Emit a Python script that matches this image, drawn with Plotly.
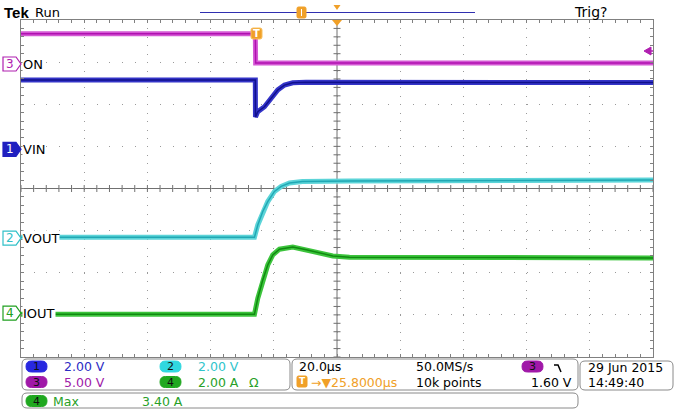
import numpy as np
import plotly.graph_objects as go

# time base 20 us/div, trigger at t=0, screen centre at +25.8 us
t_left, t_right = -74.2, 125.8
t_centre = 25.8

# channel settings: name, scale (per div), ground offset (div)
ch_names = ["ON", "VIN", "VOUT", "IOUT"]
ch_scale = [5.0, 2.0, 2.0, 2.0]
ch_offset = [2.955, 0.93, -1.18, -2.96]

# waveforms (us, V or A)
t_on = [-74.2, -0.05, 0.05, 125.8]
v_on = [3.6, 3.6, 0.12, 0.12]

t_vin = [-74.2, -0.05, 0.0, 0.73, 2.85, 4.97, 7.06, 9.18, 11.8, 16.0, 125.8]
v_vin = [3.29, 3.29, 1.53, 1.79, 2.02, 2.42, 2.82, 3.05, 3.16, 3.18, 3.17]

t_vout = [-74.2, -0.32, 0.73, 2.31, 3.89, 6.01, 8.13, 10.76, 14.87, 30.0, 125.8]
v_vout = [0.05, 0.05, 0.63, 1.27, 1.74, 2.22, 2.46, 2.62, 2.69, 2.72, 2.76]

t_iout = [-74.2, -0.32, 0.73, 2.31, 3.89, 5.48, 7.6, 11.8, 16.05, 20.26, 24.47, 29.75, 125.8]
i_iout = [-0.05, -0.05, 0.71, 1.58, 2.29, 2.77, 3.04, 3.14, 3.01, 2.85, 2.72, 2.66, 2.62]

waves = [(t_on, v_on), (t_vin, v_vin), (t_vout, v_vout), (t_iout, i_iout)]
outer_col = ["#d458d4", "#3434c8", "#5cd4d8", "#3cc43c"]
inner_col = ["#b010b0", "#10108c", "#20a8b4", "#108a10"]
mark_col = ["#b020b0", "#2020c0", "#30c0c8", "#20a020"]

FONT = "DejaVu Sans"


def px(x):
    return (x - 21) / 632


def py(y):
    return (357 - y) / 337


def rbox(x0, y0, x1, y1, r):
    return (f"M{px(x0+r)},{py(y0)} L{px(x1-r)},{py(y0)} Q{px(x1)},{py(y0)} {px(x1)},{py(y0+r)} "
            f"L{px(x1)},{py(y1-r)} Q{px(x1)},{py(y1)} {px(x1-r)},{py(y1)} "
            f"L{px(x0+r)},{py(y1)} Q{px(x0)},{py(y1)} {px(x0)},{py(y1-r)} "
            f"L{px(x0)},{py(y0+r)} Q{px(x0)},{py(y0)} {px(x0+r)},{py(y0)} Z")


def text(x, y, s, col="black", size=12.5, anchor="left", family=FONT):
    return dict(x=px(x), y=py(y), xref="paper", yref="paper", xanchor=anchor, yanchor="middle",
                text=s, showarrow=False, font=dict(family=family, size=size, color=col))


fig = go.Figure()

# centre cross ticks of the graticule
xt = np.arange(t_left, t_right + 0.01, 4.0)
yt = np.arange(-4, 4.01, 0.2)
fig.add_trace(go.Scatter(x=xt, y=np.zeros_like(xt), mode="markers", hoverinfo="skip",
                         marker=dict(symbol="line-ns", size=5, line=dict(width=1, color="#707070"))))
fig.add_trace(go.Scatter(x=np.full_like(yt, t_centre), y=yt, mode="markers", hoverinfo="skip",
                         marker=dict(symbol="line-ew", size=5, line=dict(width=1, color="#707070"))))

for i, (tt, vv) in enumerate(waves):
    y = np.array(vv) / ch_scale[i] + ch_offset[i]
    fig.add_trace(go.Scatter(x=tt, y=y, mode="lines", line=dict(color=outer_col[i], width=5),
                             hoverinfo="skip"))
    fig.add_trace(go.Scatter(x=tt, y=y, mode="lines", line=dict(color=inner_col[i], width=1.5),
                             name=ch_names[i]))

shapes = []
annos = []

# centre lines
shapes.append(dict(type="line", x0=t_centre, x1=t_centre, y0=-4, y1=4, xref="x", yref="y",
                   line=dict(color="#707070", width=1), layer="below"))
shapes.append(dict(type="line", x0=t_left, x1=t_right, y0=0, y1=0, xref="x", yref="y",
                   line=dict(color="#707070", width=1), layer="below"))

# channel markers and labels on the left
for i in range(4):
    filled = i == 1
    shapes.append(dict(type="path", xref="paper", yref="y", xsizemode="pixel", ysizemode="pixel",
                       xanchor=0, yanchor=ch_offset[i],
                       path="M-18,-7 L-5,-7 L0,0 L-5,7 L-18,7 Z",
                       fillcolor=mark_col[i] if filled else "white",
                       line=dict(color=mark_col[i], width=1.2)))
    annos.append(dict(x=0, xref="paper", xshift=-11, xanchor="center", y=ch_offset[i], yref="y",
                      yanchor="middle", text=str([3, 1, 2, 4][i]), showarrow=False,
                      font=dict(family=FONT, size=12, color="white" if filled else mark_col[i])))
    annos.append(dict(x=px(22), xref="paper", xanchor="left", y=ch_offset[i], yref="y", yanchor="middle",
                      text=ch_names[i], showarrow=False, bgcolor="white", borderpad=0,
                      font=dict(family=FONT, size=13, color="black")))

# trigger marker T
shapes.append(dict(type="path", path=rbox(251, 28, 262, 39, 2), xref="paper", yref="paper",
                   fillcolor="#f0a028", line=dict(color="#f8c060", width=1)))
annos.append(text(256.5, 33.5, "<b>T</b>", "white", 10, "center"))
# trigger level arrow on the right
shapes.append(dict(type="path", path=f"M{px(644)},{py(51)} L{px(651)},{py(47)} L{px(651)},{py(55)} Z",
                   xref="paper", yref="paper", fillcolor="#b020b0", line=dict(color="#b020b0", width=1)))
shapes.append(dict(type="line", x0=px(648), x1=px(653), y0=py(51), y1=py(51), xref="paper", yref="paper",
                   line=dict(color="#b020b0", width=1.5)))

# top bar
shapes.append(dict(type="line", x0=px(200), x1=px(475), y0=py(12.5), y1=py(12.5), xref="paper", yref="paper",
                   line=dict(color="#3030b0", width=1)))
shapes.append(dict(type="path", path=rbox(297, 7, 306, 18, 1.5), xref="paper", yref="paper",
                   fillcolor="#f0a028", line=dict(color="#f0a028", width=1)))
shapes.append(dict(type="line", x0=px(301.5), x1=px(301.5), y0=py(9), y1=py(16), xref="paper", yref="paper",
                   line=dict(color="white", width=1)))
shapes.append(dict(type="path", path=f"M{px(333.5)},{py(5)} L{px(340.5)},{py(5)} L{px(337)},{py(10)} Z",
                   xref="paper", yref="paper", fillcolor="#f0a028", line=dict(width=0)))
shapes.append(dict(type="path", path=f"M{px(332)},{py(20)} L{px(342)},{py(20)} L{px(337)},{py(26)} Z",
                   xref="paper", yref="paper", fillcolor="#f0a028", line=dict(width=0)))

annos.append(text(2, 12, "<b>Tek</b>", "black", 15, family="Liberation Sans"))
annos.append(text(33, 12, "Run", "black", 13))
annos.append(text(572, 12, "Trig?", "black", 14))

# readout boxes
for (x0, y0, x1, y1) in [(22, 359, 290, 390), (292, 359, 578, 390), (580, 361, 673, 390), (22, 393, 578, 408)]:
    shapes.append(dict(type="path", path=rbox(x0, y0, x1, y1, 5), xref="paper", yref="paper",
                       fillcolor="white", line=dict(color="#8a8a8a", width=1)))

pill_fill = {"1": "#2828e0", "2": "#30d8e0", "3": "#a018a8", "4": "#20a820"}
pills = [("1", 26, 361), ("3", 26, 376.5), ("2", 160, 361), ("4", 160, 376.5),
         ("4", 26, 395.5), ("3", 522, 361)]
for num, x0, y0 in pills:
    shapes.append(dict(type="path", path=rbox(x0, y0, x0 + 21, y0 + 11, 5.5), xref="paper", yref="paper",
                       fillcolor=pill_fill[num], line=dict(color=pill_fill[num], width=1)))
    annos.append(text(x0 + 10.5, y0 + 5.5, num, "#101010", 11, "center"))

readouts = [
    ("2.00 V", 62, 367, "#2c2cc4"), ("5.00 V", 62, 382, "#a020a8"),
    ("2.00 V", 196, 367, "#30c4cc"), ("2.00 A", 196, 382, "#28a028"), ("Ω", 247, 382, "#28a028"),
    ("Max", 51, 401, "#28a028"), ("3.40 A", 140, 401, "#28a028"),
    ("20.0µs", 297, 367, "black"), ("→▼25.8000µs", 309, 382, "#f0a028"),
    ("50.0MS/s", 414, 367, "black"), ("10k points", 414, 382, "black"),
    ("1.60 V", 529, 382, "black"),
    ("29 Jun 2015", 586, 368, "black"), ("14:49:40", 586, 382, "black"),
]
for txt, x0, yc, col in readouts:
    annos.append(text(x0, yc, txt, col))

# orange T box before the delay readout
shapes.append(dict(type="path", path=rbox(297, 376, 307, 387, 1.5), xref="paper", yref="paper",
                   fillcolor="#f0a028", line=dict(color="#f0a028", width=1)))
annos.append(text(302, 381.5, "<b>T</b>", "white", 9, "center"))
# falling edge symbol
shapes.append(dict(type="path", path=f"M{px(554)},{py(365)} L{px(558)},{py(365)} L{px(561)},{py(372)}",
                   xref="paper", yref="paper", line=dict(color="black", width=1.5)))

fig.update_layout(
    width=681, height=413,
    margin=dict(l=21, r=28, t=20, b=56),
    paper_bgcolor="white", plot_bgcolor="white",
    showlegend=False,
    shapes=shapes, annotations=annos,
    xaxis=dict(range=[t_left, t_right], tick0=t_centre, dtick=20, showticklabels=False,
               showgrid=True, gridcolor="#9a9a9a", gridwidth=1, griddash="1px,7.43px",
               zeroline=False, showline=True, linecolor="#808080", linewidth=1, mirror="allticks",
               ticks="inside", ticklen=3, tickcolor="#808080",
               minor=dict(dtick=4, tick0=t_centre, ticks="inside", ticklen=3, tickcolor="#808080",
                          showgrid=False)),
    yaxis=dict(range=[-4, 4], tick0=0, dtick=1, showticklabels=False,
               showgrid=True, gridcolor="#9a9a9a", gridwidth=1, griddash="1px,11.64px",
               zeroline=False, showline=True, linecolor="#808080", linewidth=1, mirror="allticks",
               ticks="inside", ticklen=3, tickcolor="#808080",
               minor=dict(dtick=0.2, tick0=0, ticks="inside", ticklen=3, tickcolor="#808080",
                          showgrid=False)),
)

fig.write_html("out.html", config={"displayModeBar": False},
               post_script="document.body.style.margin='0px';")
